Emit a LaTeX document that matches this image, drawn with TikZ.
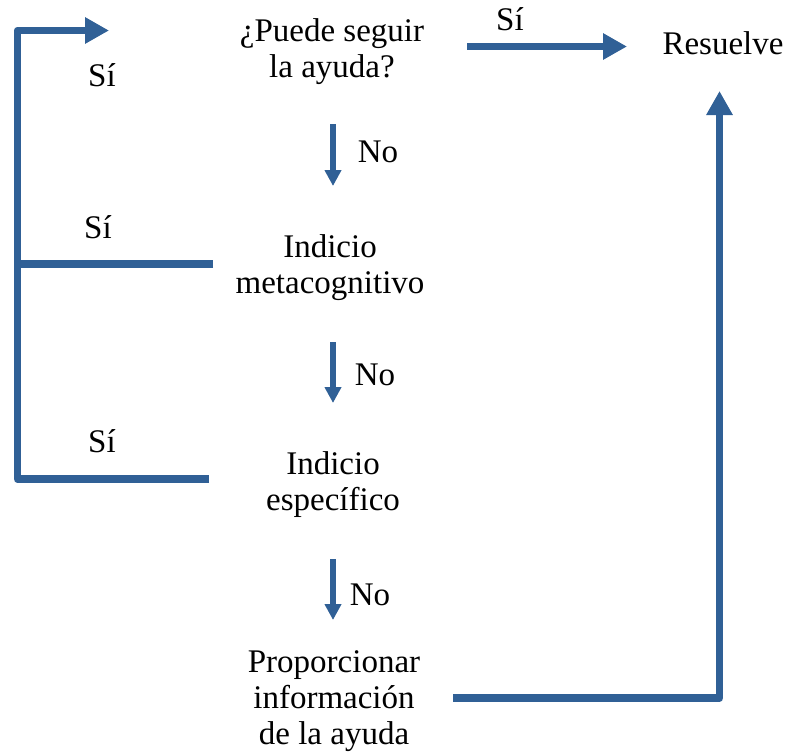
\documentclass[tikz,border=0pt]{standalone}
\usepackage{fontspec}
\setmainfont{Liberation Serif}
\usetikzlibrary{arrows.meta}
\definecolor{flowblue}{RGB}{48,96,150}
\begin{document}
\begin{tikzpicture}[x=1pt,y=-1pt,
  label/.style={anchor=base,inner sep=0pt,align=center,
    font=\fontsize{33}{36}\selectfont},
  mainline/.style={draw=flowblue,line width=7.5pt,line join=round},
  bigarrow/.style={mainline,-{Triangle[length=24pt,width=25pt]}},
  smallarrow/.style={draw=flowblue,line width=5.5pt,-{Triangle[length=16pt,width=16pt]}}]
\useasboundingbox (0,0) rectangle (787,753);

% step texts (placed by the baseline of their last line)
\node[label] (ask)  at (332,77)  {¿Puede seguir\\la ayuda?};
\node[label] (done) at (723,54)  {Resuelve};
\node[label] (meta) at (330,293) {Indicio\\metacognitivo};
\node[label] (spec) at (333,510) {Indicio\\específico};
\node[label] (info) at (334,744) {Proporcionar\\información\\de la ayuda};

% answer labels
\node[label] (yesA) at (510,30)  {Sí};
\node[label] (yesB) at (102,86)  {Sí};
\node[label] (yesC) at (98,238)  {Sí};
\node[label] (yesD) at (102,452) {Sí};
\node[label] (noA)  at (378,162) {No};
\node[label] (noB)  at (375,385) {No};
\node[label] (noC)  at (370,605) {No};

% connector end points
\coordinate (askOut)  at (467,46.5);
\coordinate (doneIn)  at (627,46.5);
\coordinate (askDown) at (333,124);
\coordinate (metaIn)  at (333,186);
\coordinate (metaDown) at (333,342);
\coordinate (specIn)  at (333,403);
\coordinate (specDown) at (333,559);
\coordinate (infoIn)  at (333,620);
\coordinate (metaOut) at (213,264);
\coordinate (specOut) at (209,479);
\coordinate (leftBar) at (17.5,264);
\coordinate (backTip) at (109,30.5);
\coordinate (infoOut) at (453,698);
\coordinate (doneUp)  at (719.5,91);

% yes / no connectors
\draw[bigarrow] (askOut) -- (doneIn);
\draw[smallarrow] (askDown) -- (metaIn);
\draw[smallarrow] (metaDown) -- (specIn);
\draw[smallarrow] (specDown) -- (infoIn);
\draw[bigarrow] (specOut) -| (leftBar) |- (backTip);
\draw[mainline] (metaOut) -- (leftBar);
\draw[bigarrow] (infoOut) -| (doneUp);
\end{tikzpicture}
\end{document}
